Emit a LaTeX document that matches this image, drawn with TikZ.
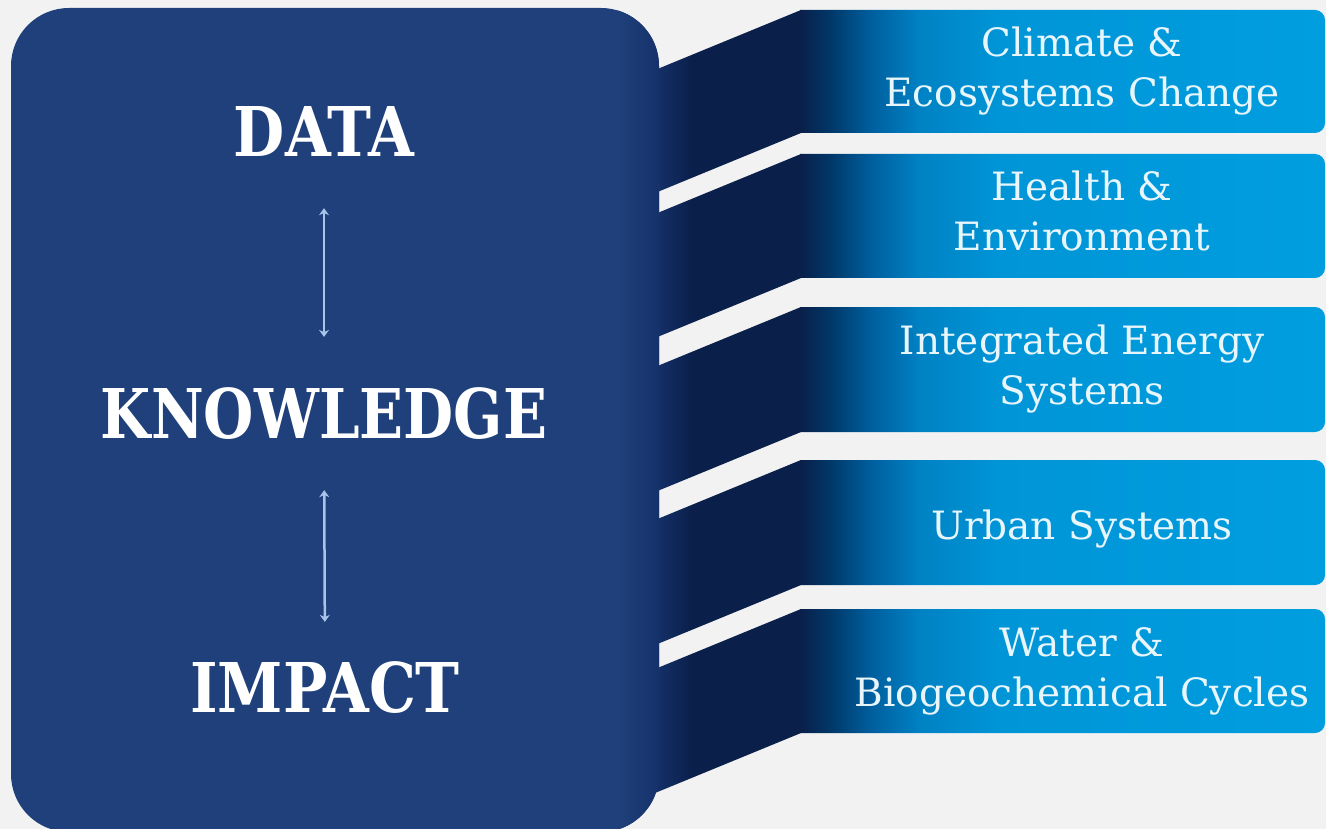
\documentclass[tikz,border=0pt]{standalone}
\usepackage{fontspec}
\usetikzlibrary{arrows.meta}
\newfontfamily\headfont{DejaVu Serif Bold}[FakeStretch=0.86]
\newfontfamily\headfontnarrow{DejaVu Serif Bold}[FakeStretch=0.842]
\newfontfamily\boxfont{DejaVu Serif}
\definecolor{bg}{HTML}{F2F2F2}
\definecolor{panel}{HTML}{1F407A}
\definecolor{paneledge}{HTML}{15316A}
\definecolor{navy}{HTML}{0A1F4A}
\definecolor{sh1}{HTML}{003868}
\definecolor{sh2}{HTML}{005E9E}
\definecolor{sh3}{HTML}{0082C4}
\definecolor{sh4}{HTML}{0095D7}
\definecolor{sky}{HTML}{009EDF}
\definecolor{boxtext}{HTML}{E8F6FC}
\definecolor{arrowc}{HTML}{A9C3EA}
\pgfdeclarehorizontalshading{boxshade}{100bp}{color(0bp)=(navy); color(25bp)=(navy); color(27.9bp)=(sh1); color(31.7bp)=(sh2); color(36.4bp)=(sh3); color(44bp)=(sh4); color(75bp)=(sky); color(100bp)=(sky)}
\pgfdeclarehorizontalshading{diagshade}{100bp}{color(0bp)=(paneledge); color(25bp)=(paneledge); color(38bp)=(navy); color(100bp)=(navy)}
\begin{document}
\begin{tikzpicture}[x=1pt,y=-1pt,
  head/.style={font=\headfont\fontsize{68.6}{80}\selectfont, text=white, inner sep=0pt, anchor=base},
  label/.style={font=\boxfont\fontsize{39}{50}\selectfont, text=boxtext, inner sep=0pt, anchor=base},
  link/.style={draw=arrowc, line width=2.5pt, {Stealth[length=7pt,width=10pt]}-{Stealth[length=7pt,width=10pt]}}]
\fill[bg] (0,0) rectangle (1326,829);
\useasboundingbox (0,0) rectangle (1326,829);
% ribbons
\foreach \t/\b in {10/133,154/278,307/432,460/585,609/733}{
  \shade[shading=diagshade] (655,\t+60) -- (801,\t) -- (801,\b) -- (655,\b+60) -- cycle;
  \shade[shading=boxshade] (800,\t) -- (1315,\t) arc[start angle=-90,end angle=0,radius=10]
     -- (1325,\b-10) arc[start angle=0,end angle=90,radius=10] -- (800,\b) -- cycle;
}
% main panel
\fill[panel, rounded corners=58pt] (11,8) rectangle (659,832);
\begin{scope}
  \clip[rounded corners=58pt] (11,8) rectangle (659,832);
  \shade[left color=panel, right color=paneledge] (618,0) rectangle (660,840);
\end{scope}
% left labels
\node[head] (data) at (324,157) {DATA};
\node[head, font=\headfontnarrow\fontsize{68.6}{80}\selectfont] (knowledge) at (324,438) {KNOWLEDGE};
\node[head] (impact) at (325,712) {IMPACT};
\draw[link, shorten <=51pt, shorten >=50pt] (data.south) -- (knowledge.north);
\draw[link, shorten <=51pt, shorten >=39pt] (knowledge.south) -- (impact.north);
% right labels
\node[label] (c1) at (1082,57) {Climate \&};
\node[label] (c2) at (1082,107) {Ecosystems Change};
\node[label] (h1) at (1082,201) {Health \&};
\node[label] (h2) at (1082,251) {Environment};
\node[label] (i1) at (1082,354) {Integrated Energy};
\node[label] (i2) at (1082,404) {Systems};
\node[label] (u1) at (1082,539) {Urban Systems};
\node[label] (w1) at (1082,656) {Water \&};
\node[label] (w2) at (1082,706) {Biogeochemical Cycles};
\end{tikzpicture}
\end{document}
